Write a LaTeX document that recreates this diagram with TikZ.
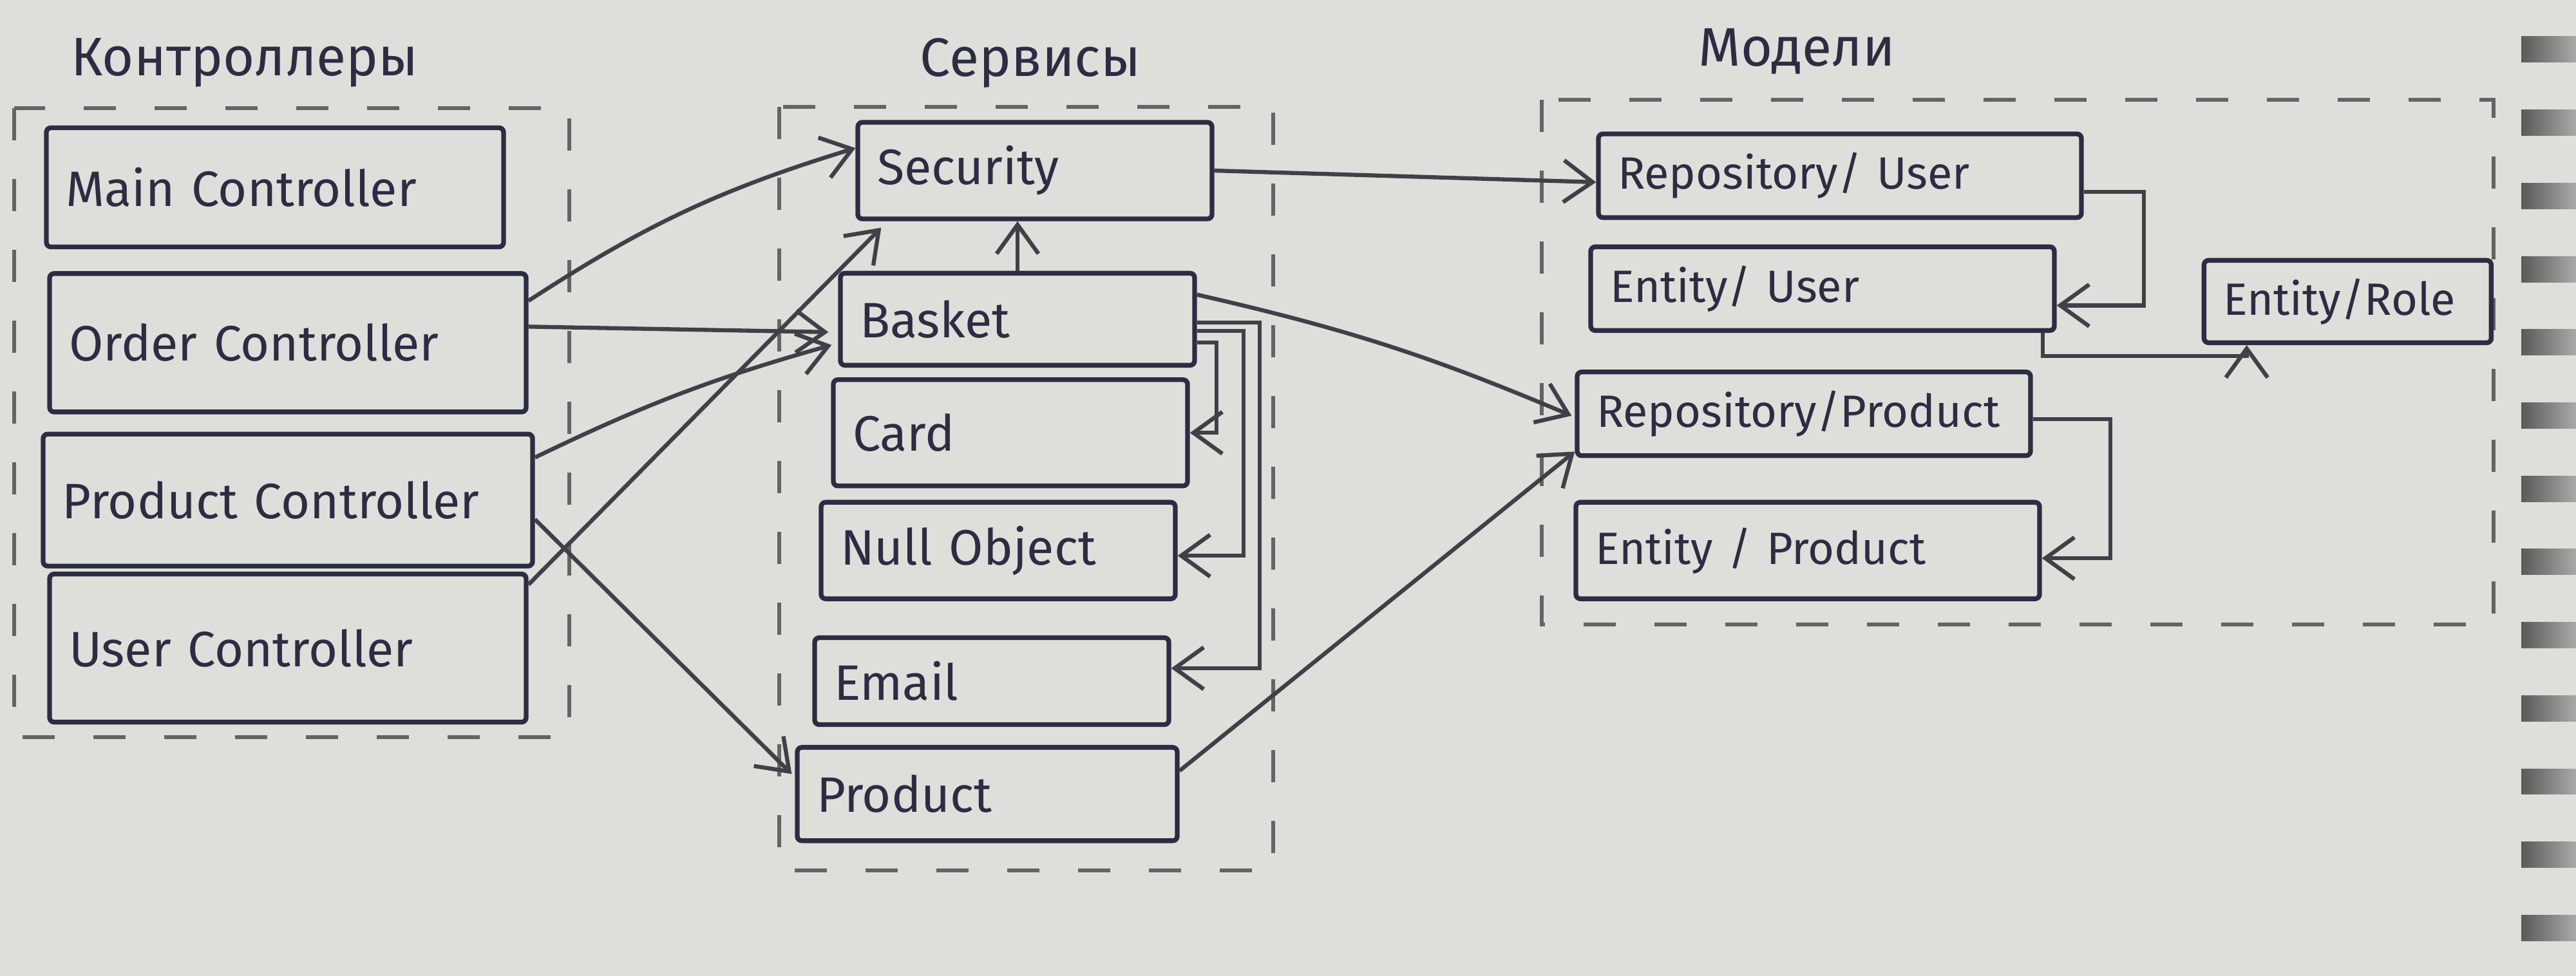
\documentclass[tikz,border=0pt]{standalone}
\usepackage{fontspec}
\setmainfont{Fira Sans}
\usepackage{tikz}
\usetikzlibrary{arrows.meta,positioning}
\definecolor{paper}{RGB}{222,222,219}
\definecolor{ink}{RGB}{44,44,66}
\definecolor{pen}{RGB}{64,64,72}
\definecolor{pencil}{RGB}{100,100,100}
\definecolor{ring}{RGB}{90,90,90}
\hyphenpenalty=10000

\begin{document}
\begin{tikzpicture}[
box/.style={draw=ink,line width=2.1pt,rounded corners=2pt,text=ink,align=left,inner xsep=3mm,font=\fontsize{22}{26}\selectfont},
ctrl/.style={box,text width=6.8cm,minimum height=2.15cm},
srv/.style={box,text width=4.9cm,minimum height=1.5cm},
mdl/.style={box,text width=6.6cm,minimum height=1.3cm,font=\fontsize{20}{24}\selectfont},
grp/.style={draw=pencil,line width=1.6pt,dash pattern=on 5mm off 6mm},
title/.style={text=ink,font=\fontsize{24}{28}\selectfont},
arr/.style={draw=pen,line width=1.8pt,-{Straight Barb[length=4.5mm,width=6.5mm,line width=1.8pt]}}
]
\useasboundingbox (0,0) rectangle (40,-15.16);
\fill[paper] (0,0) rectangle (40,-15.16);
\foreach \i in {0,...,12}
  \shade[left color=ring,right color=paper!60!ring] (39.15,-0.57-1.137*\i) rectangle (40,-0.97-1.137*\i);

\draw[grp] (0.22,-1.68) rectangle (8.84,-11.45);
\draw[grp] (12.1,-1.66) rectangle (19.77,-13.52);
\draw[grp] (23.94,-1.55) rectangle (38.72,-9.7);
\node[title] (tk) at (3.8,-0.97) {Контроллеры};
\node[title] (ts) at (16.0,-0.98) {Сервисы};
\node[title] (tm) at (27.9,-0.8) {Модели};

\node[ctrl,text width=6.5cm,minimum height=1.85cm] (mc) at (4.27,-2.91) {Main Controller};
\node[ctrl,below=3.4mm of mc,xshift=2mm] (oc) {Order Controller};
\node[ctrl,below=2.7mm of oc,text width=7cm,minimum height=2.05cm] (pc) {Product Controller};
\node[ctrl,below=0.5mm of pc,minimum height=2.3cm] (uc) {User Controller};

\node[srv] (sec) at (16.07,-2.65) {Security};
\node[srv,below=7.7mm of sec,xshift=-2.7mm,minimum height=1.43cm] (bas) {Basket};
\node[srv,below=1.5mm of bas,xshift=-1.1mm,minimum height=1.65cm] (card) {Card};
\node[srv,below=1.8mm of card,xshift=-1.9mm] (nul) {Null Object};
\node[srv,below=5.3mm of nul,xshift=-1mm,minimum height=1.35cm] (eml) {Email};
\node[srv,below=2.8mm of eml,xshift=-0.7mm,text width=5.3cm,minimum height=1.45cm] (prd) {Product};

\node[mdl,text width=6.9cm] (ru) at (28.57,-2.73) {Repository/ User};
\node[mdl,below=3.8mm of ru,xshift=-2.7mm] (eu) {Entity/ User};
\node[mdl,below=5.7mm of eu,xshift=-2.9mm,text width=6.44cm] (rp) {Repository/Product};
\node[mdl,below=6.5mm of rp,xshift=0.6mm,minimum height=1.5cm] (ep) {Entity / Product};
\node[mdl,right=22.5mm of eu,yshift=-2mm,text width=3.86cm,minimum height=1.28cm] (er) {Entity/Role};

\draw[arr] ([yshift=-4.6mm]oc.north east) to[bend left=8] ([yshift=3.5mm]sec.west);
\draw[arr] ([yshift=2.5mm]oc.east) -- ([xshift=-1.5mm,yshift=-2mm]bas.west);
\draw[arr] ([yshift=-4mm]pc.north east) to[bend left=5] ([xshift=-1mm,yshift=-4mm]bas.west);
\draw[arr] ([yshift=-2mm]uc.north east) -- ([xshift=4mm,yshift=-1mm]sec.south west);
\draw[arr] ([yshift=-3mm]pc.east) -- ([xshift=-0.5mm,yshift=-4.5mm]prd.north west);
\draw[arr] (bas.north) -- (bas.north |- sec.south);
\draw[arr] (sec.east) -- ([yshift=-1mm]ru.west);
\draw[arr] ([yshift=-3.7mm]bas.north east) to[bend left=5] ([xshift=-0.5mm,yshift=-0.3mm]rp.west);
\draw[arr] ([yshift=-4mm]prd.north east) -- ([yshift=1mm]rp.south west);
\draw[arr] ([yshift=-3.6mm]bas.east) -- ++(0.3,0) |- (card.east);
\draw[arr] ([yshift=-1.8mm]bas.east) -- ++(0.72,0) |- ([yshift=-0.8mm]nul.east);
\draw[arr] ([yshift=-0.5mm]bas.east) -- ++(0.97,0) |- ([yshift=2mm]eml.east);
\draw[arr] ([yshift=-2.5mm]ru.east) -- ++(0.93,0) |- ([yshift=-2.6mm]eu.east);
\draw[arr] ([xshift=-2.2mm]eu.south east) -- ++(0,-0.36) -| ([xshift=7mm]er.south west);
\draw[arr] ([yshift=-0.8mm]rp.east) -- ++(1.2,0) |- ([yshift=-1.2mm]ep.east);
\end{tikzpicture}
\end{document}
